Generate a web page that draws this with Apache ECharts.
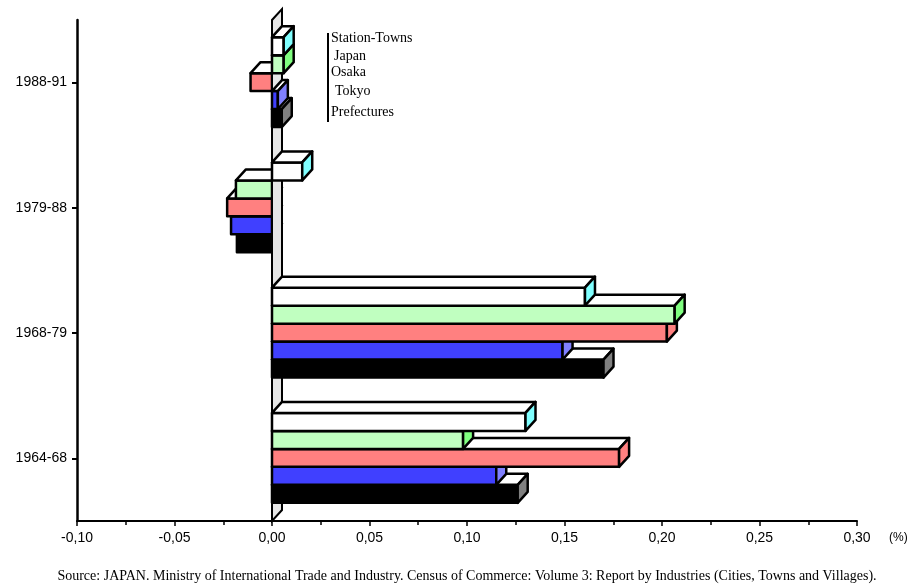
<!DOCTYPE html>
<html>
<head>
<meta charset="utf-8">
<script src="https://cdn.jsdelivr.net/npm/echarts@6/dist/echarts.min.js"></script>
<style>
  html, body { margin: 0; padding: 0; background: #ffffff; }
  #chart { width: 912px; height: 585px; }
</style>
</head>
<body>
<div id="chart"></div>
<script>
// Periods on the category axis (bottom to top)
const categories = ['1964-68', '1968-79', '1979-88', '1988-91'];

// Annual change (%) per period
const prefectures  = [0.126, 0.170, -0.018, 0.005];
const tokyo        = [0.115, 0.149, -0.021, 0.003];
const osaka        = [0.178, 0.2025, -0.023, -0.011];
const japan        = [0.098, 0.2065, -0.0185, 0.006];
const stationTowns = [0.130, 0.1605, 0.0155, 0.006];

// Value axis ticks
const xMin = -0.10, xMax = 0.30, xStep = 0.05;
const xTickLabels = ['-0,10', '-0,05', '0,00', '0,05', '0,10', '0,15', '0,20', '0,25', '0,30'];

// Series, stacked inside each category from the bottom up
const seriesNames = ['Prefectures', 'Tokyo', 'Osaka', 'Japan', 'Station-Towns'];
const seriesData  = [prefectures, tokyo, osaka, japan, stationTowns];

// Face colours of the extruded bars
const frontColors = ['#000000', '#4040ff', '#ff8080', '#c0ffc0', '#ffffff'];
const sideColors  = ['#808080', '#8080ff', '#ff8080', '#80ff80', '#80ffff'];
const topColor = '#ffffff';

// Legend text: listed top to bottom, with small indents
const legendOrder = ['Station-Towns', 'Japan', 'Osaka', 'Tokyo', 'Prefectures'];
const legendX = [331, 334, 331, 335, 331];
const legendY = [38, 56, 72, 91, 112];

const DX = 10, DY = 11;          // extrusion offset (px)
const BAR_FRAC = 18 / 125.3;     // bar thickness as a share of a category band
const EDGE = { stroke: '#000000', lineWidth: 2.5, lineJoin: 'round' };

function barRenderer(si) {
  return function (params, api) {
    const cat = api.value(0);
    const v = api.value(1);
    const p0 = api.coord([0, cat]);
    const p1 = api.coord([v, cat]);
    const band = api.size([0, 1])[1];
    const h = band * BAR_FRAC;
    const yBot = p0[1] + h * 2.5 - h * si - 0.5;
    const yTop = yBot - h;
    const x0 = p0[0];
    const x1 = p1[0];
    const base = (v >= 0 ? 100 : 0) + si * 4;
    const children = [];
    const left = Math.min(x0, x1), right = Math.max(x0, x1);
    children.push({
      type: 'polygon', z2: base,
      shape: { points: [[left, yTop], [right, yTop], [right, yBot], [left, yBot]] },
      style: Object.assign({ fill: frontColors[si] }, EDGE)
    });
    children.push({
      type: 'polygon', z2: base + 1,
      shape: { points: [[left, yTop], [right, yTop], [right + DX, yTop - DY], [left + DX, yTop - DY]] },
      style: Object.assign({ fill: topColor }, EDGE)
    });
    if (v > 0) {
      children.push({
        type: 'polygon', z2: base + 2,
        shape: { points: [[x1, yTop], [x1 + DX, yTop - DY], [x1 + DX, yBot - DY], [x1, yBot]] },
        style: Object.assign({ fill: sideColors[si] }, EDGE)
      });
    }
    return { type: 'group', children: children };
  };
}

// Thin grey wall standing on the zero line
function wallRenderer(params, api) {
  const cs = params.coordSys;
  const x0 = api.coord([0, 0])[0];
  const top = cs.y, bot = cs.y + cs.height;
  return {
    type: 'polygon', z2: 50,
    shape: { points: [[x0, bot], [x0, top], [x0 + DX, top - DY], [x0 + DX, bot - DY]] },
    style: { fill: '#e6e6e6', stroke: '#000000', lineWidth: 2 }
  };
}

const series = [{
  type: 'custom',
  name: 'wall',
  renderItem: wallRenderer,
  data: [[0, 0]],
  encode: { x: 0, y: 1 },
  silent: true
}];
seriesData.forEach(function (vals, si) {
  series.push({
    type: 'custom',
    name: seriesNames[si],
    renderItem: barRenderer(si),
    data: categories.map(function (c, ci) { return [ci, vals[ci]]; }),
    encode: { y: 0, x: 1 }
  });
});

const graphics = [{
  type: 'line',
  shape: { x1: 328, y1: 33, x2: 328, y2: 122 },
  style: { stroke: '#000000', lineWidth: 2 }
}];
legendOrder.forEach(function (name, i) {
  graphics.push({
    type: 'text', x: legendX[i], y: legendY[i],
    style: { text: name, font: '14px "Liberation Serif"', fill: '#000000', textVerticalAlign: 'middle' }
  });
});
graphics.push({
  type: 'text', x: 889, y: 538,
  style: { text: '(%)', font: '12px "Liberation Sans"', fill: '#000000', textVerticalAlign: 'middle' }
});
graphics.push({
  type: 'text', x: 467, y: 576,
  style: {
    text: 'Source: JAPAN. Ministry of International Trade and Industry. Census of Commerce: Volume 3: Report by Industries (Cities, Towns and Villages).',
    font: '14px "Liberation Serif"', fill: '#000000', textAlign: 'center', textVerticalAlign: 'middle'
  }
});

const chart = echarts.init(document.getElementById('chart'), null, { renderer: 'canvas' });
chart.setOption({
  animation: false,
  backgroundColor: '#ffffff',
  grid: { left: 77, right: 55, top: 20, bottom: 64, containLabel: false },
  xAxis: {
    type: 'value', min: xMin, max: xMax, interval: xStep,
    axisLine: { show: true, onZero: false, lineStyle: { color: '#000000', width: 2 } },
    axisTick: { show: true, length: 5, lineStyle: { color: '#000000', width: 1.5 } },
    minorTick: { show: true, splitNumber: 2, length: 4, lineStyle: { color: '#000000', width: 1.5 } },
    splitLine: { show: false },
    axisLabel: {
      color: '#000000', fontFamily: 'Liberation Sans', fontSize: 14, margin: 10,
      formatter: function (v) { return xTickLabels[Math.round((v - xMin) / xStep)]; }
    }
  },
  yAxis: {
    type: 'category', data: categories,
    axisLine: { show: true, onZero: false, lineStyle: { color: '#000000', width: 2.5 } },
    axisTick: { show: true, alignWithLabel: true, length: 5, lineStyle: { color: '#000000', width: 2 } },
    splitLine: { show: false },
    axisLabel: { color: '#000000', fontFamily: 'Liberation Sans', fontSize: 14, margin: 10 }
  },
  series: series,
  graphic: graphics
});
</script>
</body>
</html>
